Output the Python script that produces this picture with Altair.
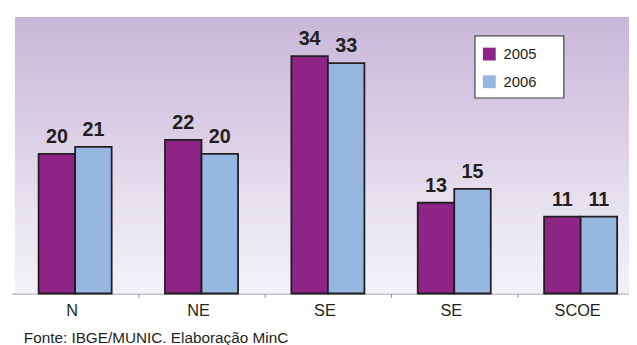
import altair as alt
import pandas as pd

regions = ["N", "NE", "SE", "SE", "SCOE"]
years = ["2005", "2006"]
values_2005 = [20, 22, 34, 13, 11]
values_2006 = [21, 20, 33, 15, 11]
colors = ["#8D2486", "#96B7E0"]
footnote = "Fonte: IBGE/MUNIC. Elaboração MinC"

rows = []
for i, r in enumerate(regions):
    for yr, vals in zip(years, [values_2005, values_2006]):
        rows.append({"key": i, "region": r, "year": yr, "value": vals[i]})
df = pd.DataFrame(rows)

W, H = 622, 280
FONT = "Liberation Sans"
TXT = "#231F20"
label_expr = "[" + ",".join(f"'{r}'" for r in regions) + "][datum.value]"

x_enc = alt.X(
    "key:O",
    scale=alt.Scale(range=[-3, 637], paddingInner=0, paddingOuter=0),
    axis=alt.Axis(
        title=None,
        labelExpr=label_expr,
        labelAngle=0,
        bandPosition=0,
        labelOffset=-3,
        labelFont=FONT,
        labelFontSize=16.5,
        labelColor=TXT,
        labelPadding=5,
        tickSize=4,
        tickColor="#8A8A8A",
        tickOpacity={"condition": {"test": "datum.value == 0", "value": 0}, "value": 1},
        domainColor="#8A8A8A",
        domainWidth=1.2,
        grid=False,
    ),
)
xoff = alt.XOffset("year:N", scale=alt.Scale(paddingInner=0, paddingOuter=0.73))
y_enc = alt.Y("value:Q", scale=alt.Scale(domain=[0, 39.6]), axis=None)

one = pd.DataFrame({"a": [0]})
bg = alt.Chart(one).mark_rect(
    fill=alt.LinearGradient(
        gradient="linear", x1=0, y1=0, x2=0, y2=1,
        stops=[
            alt.GradientStop(offset=0, color="#C9B7DA"),
            alt.GradientStop(offset=0.45, color="#DCD0E6"),
            alt.GradientStop(offset=0.7, color="#E8E3F0"),
            alt.GradientStop(offset=1, color="#F2F1F8"),
        ],
    )
).encode(x=alt.value(0), x2=alt.value(W), y=alt.value(0), y2=alt.value(H))

legend_box = alt.Chart(one).mark_rect(fill="white", stroke="#444444", strokeWidth=1.2).encode(
    x=alt.value(466), x2=alt.value(556), y=alt.value(19), y2=alt.value(82)
)

bars = alt.Chart(df).mark_bar(stroke=TXT, strokeWidth=1.8).encode(
    x=x_enc,
    xOffset=xoff,
    y=y_enc,
    color=alt.Color(
        "year:N",
        scale=alt.Scale(domain=years, range=colors),
        legend=alt.Legend(
            title=None, orient="none", legendX=473, legendY=30,
            symbolType="square", symbolSize=169, symbolStrokeWidth=0,
            labelFont=FONT, labelFontSize=15, labelColor=TXT,
            rowPadding=12, padding=0, labelOffset=7,
        ),
    ),
)

text = alt.Chart(df).mark_text(
    font=FONT, fontSize=20, fontWeight="bold", color=TXT, dy=-11, baseline="alphabetic"
).encode(x=x_enc, xOffset=xoff, y=y_enc, text="value:Q")

chart = alt.layer(bg, legend_box, bars, text).properties(
    width=W, height=H,
    title=alt.TitleParams(
        text=footnote, orient="bottom", anchor="start", offset=13, dx=12,
        font=FONT, fontSize=15.5, fontWeight="normal", color=TXT,
    ),
    autosize=alt.AutoSizeParams(type="none"),
    padding={"left": 7, "top": 7, "right": 0, "bottom": 50},
    background="white",
).configure_view(stroke=None)

chart.save("out.html", embed_options={"renderer": "svg", "actions": False})
